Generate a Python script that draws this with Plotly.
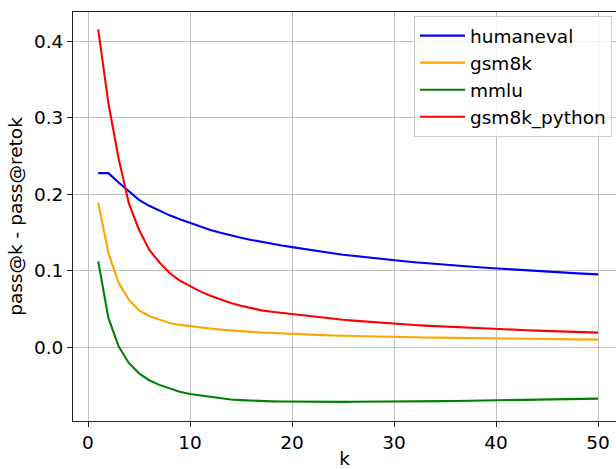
import plotly.graph_objects as go

k = list(range(1, 51))

humaneval = [0.2277, 0.2277, 0.2154, 0.2037, 0.1928, 0.1850, 0.1785, 0.1725, 0.1675, 0.1625,
             0.1578, 0.1535, 0.1498, 0.1463, 0.1432, 0.1404, 0.1378, 0.1353, 0.1331, 0.1310,
             0.1288, 0.1267, 0.1247, 0.1229, 0.1211, 0.1195, 0.1179, 0.1164, 0.1150, 0.1136,
             0.1124, 0.1112, 0.1100, 0.1089, 0.1078, 0.1068, 0.1059, 0.1049, 0.1040, 0.1031,
             0.1022, 0.1013, 0.1005, 0.0997, 0.0989, 0.0982, 0.0974, 0.0967, 0.0960, 0.0953]

gsm8k = [0.1893, 0.1232, 0.0845, 0.0623, 0.0483, 0.0410, 0.0362, 0.0319, 0.0293, 0.0275,
         0.0258, 0.0245, 0.0232, 0.0219, 0.0210, 0.0202, 0.0193, 0.0186, 0.0180, 0.0174,
         0.0169, 0.0164, 0.0159, 0.0155, 0.0151, 0.0147, 0.0144, 0.0141, 0.0138, 0.0135,
         0.0133, 0.0131, 0.0129, 0.0127, 0.0125, 0.0123, 0.0121, 0.0120, 0.0118, 0.0117,
         0.0115, 0.0113, 0.0112, 0.0110, 0.0109, 0.0107, 0.0106, 0.0104, 0.0102, 0.0100]

mmlu = [0.1123, 0.0384, 0.0013, -0.0204, -0.0340, -0.0430, -0.0491, -0.0540, -0.0580, -0.0610,
        -0.0630, -0.0650, -0.0669, -0.0682, -0.0690, -0.0698, -0.0703, -0.0706, -0.0709, -0.0711,
        -0.0712, -0.0713, -0.0713, -0.0713, -0.0713, -0.0712, -0.0712, -0.0711, -0.0710, -0.0709,
        -0.0708, -0.0707, -0.0705, -0.0704, -0.0703, -0.0701, -0.0699, -0.0697, -0.0695, -0.0693,
        -0.0690, -0.0688, -0.0686, -0.0684, -0.0682, -0.0679, -0.0677, -0.0675, -0.0672, -0.0670]

gsm8k_python = [0.4157, 0.3190, 0.2470, 0.1885, 0.1537, 0.1275, 0.1110, 0.0971, 0.0871, 0.0797,
                0.0731, 0.0675, 0.0623, 0.0580, 0.0544, 0.0514, 0.0483, 0.0466, 0.0450, 0.0436,
                0.0418, 0.0402, 0.0387, 0.0373, 0.0361, 0.0349, 0.0338, 0.0328, 0.0318, 0.0309,
                0.0300, 0.0292, 0.0284, 0.0277, 0.0270, 0.0263, 0.0257, 0.0251, 0.0245, 0.0240,
                0.0234, 0.0229, 0.0223, 0.0218, 0.0213, 0.0209, 0.0204, 0.0200, 0.0196, 0.0192]

series = [("humaneval", humaneval, "blue"),
          ("gsm8k", gsm8k, "orange"),
          ("mmlu", mmlu, "green"),
          ("gsm8k_python", gsm8k_python, "red")]

x_ticks = [0, 10, 20, 30, 40, 50]
y_ticks = [0.0, 0.1, 0.2, 0.3, 0.4]
y_tick_labels = ["0.0", "0.1", "0.2", "0.3", "0.4"]

fig = go.Figure()
for i, (name, vals, color) in enumerate(series):
    fig.add_trace(go.Scatter(x=k, y=vals, mode="lines", name=name,
                             legendgroup=f"g{i}",
                             line=dict(color=color, width=2.1)))

font = dict(family="DejaVu Sans", size=18.5, color="black")

fig.update_layout(
    width=616, height=469,
    margin=dict(l=73, r=0, t=12, b=48, autoexpand=False),
    paper_bgcolor="white", plot_bgcolor="white",
    font=font,
    showlegend=True,
    legend=dict(x=0.9926, y=0.99, xanchor="right", yanchor="top",
                bgcolor="rgba(255,255,255,0.8)", bordercolor="#cccccc", borderwidth=1,
                font=dict(family="DejaVu Sans", size=18.5, color="black"),
                traceorder="grouped", tracegroupgap=0, itemwidth=45),
    xaxis=dict(range=[-1.47, 51.76], tickvals=x_ticks, ticks="outside", ticklen=5,
               tickcolor="#222222", tickwidth=1, showline=True, linecolor="#222222",
               linewidth=1, mirror=True, showgrid=True, gridcolor="#c0c0c0",
               gridwidth=1, zeroline=False, tickfont=font, automargin=False,
               title=dict(text="k", standoff=9, font=font)),
    yaxis=dict(range=[-0.0963, 0.4383], tickvals=y_ticks, ticktext=y_tick_labels,
               ticks="outside", ticklen=5, tickcolor="#222222", tickwidth=1,
               showline=True, linecolor="#222222", linewidth=1, mirror=False,
               showgrid=True, gridcolor="#c0c0c0", gridwidth=1, zeroline=False,
               tickfont=font, automargin=False,
               title=dict(text="pass@k - pass@retok", standoff=6, font=font)),
)

fig.write_html("out.html")
